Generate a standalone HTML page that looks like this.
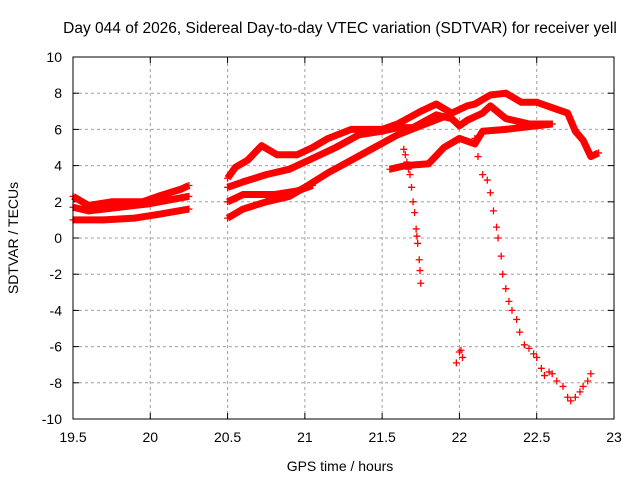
<!DOCTYPE html>
<html><head><meta charset="utf-8"><style>
body{margin:0;background:#fff}
svg{display:block;font-family:"Liberation Sans",Arial,sans-serif}
</style></head><body>
<svg id="chart" width="640" height="480">
<text x="340" y="33" text-anchor="middle" font-size="15.5">Day 044 of 2026, Sidereal Day-to-day VTEC variation (SDTVAR) for receiver yell</text>
<text x="340" y="471" text-anchor="middle" font-size="14">GPS time / hours</text>
<text transform="translate(18,238) rotate(-90)" text-anchor="middle" font-size="14">SDTVAR / TECUs</text>
<g id="grid"></g><g id="series"></g>
<rect x="73" y="57" width="541" height="362" fill="none" stroke="#000" stroke-width="1"/>
</svg>
<script>
const xTicks=[19.5,20,20.5,21,21.5,22,22.5,23];
const yTicks=[-10,-8,-6,-4,-2,0,2,4,6,8,10];
const trackA1=[[19.5,2.3],[19.6,1.8],[19.75,2.0],[19.95,2.0],[20.05,2.3],[20.2,2.7],[20.25,2.9]];
const trackA2=[[19.5,1.7],[19.6,1.5],[19.8,1.7],[20.0,1.9],[20.25,2.3]];
const trackA3=[[19.5,1.0],[19.7,1.0],[19.9,1.1],[20.05,1.3],[20.25,1.6]];
const trackB1=[[20.5,3.3],[20.55,3.9],[20.63,4.3],[20.72,5.1],[20.82,4.6],[20.95,4.6],[21.05,5.0],[21.15,5.5],[21.3,6.0],[21.5,6.0],[21.6,6.3],[21.75,7.0],[21.85,7.4],[21.95,6.9],[22.05,7.3],[22.1,7.4],[22.2,7.9],[22.3,8.0],[22.4,7.5],[22.5,7.5],[22.6,7.2],[22.7,6.9],[22.75,5.9],[22.8,5.4],[22.85,4.5],[22.9,4.7]];
const trackB2=[[20.5,2.8],[20.6,3.1],[20.75,3.5],[20.9,3.8],[21.05,4.4],[21.2,5.0],[21.35,5.7],[21.5,5.9],[21.6,6.1],[21.7,6.1],[21.85,6.8],[21.95,6.6],[22.0,6.2],[22.05,6.5],[22.15,6.9],[22.2,7.3],[22.3,6.6],[22.45,6.3],[22.6,6.3]];
const trackB3=[[20.5,2.0],[20.6,2.4],[20.8,2.4],[20.95,2.6],[21.05,2.9]];
const trackB4=[[20.5,1.1],[20.6,1.6],[20.75,2.0],[20.9,2.3],[21.0,2.8],[21.15,3.6],[21.3,4.3],[21.45,5.0],[21.6,5.7],[21.75,6.2],[21.9,6.7]];
const trackC=[[21.55,3.8],[21.65,4.0],[21.8,4.1],[21.9,5.0],[22.0,5.5],[22.1,5.2],[22.15,5.9],[22.3,6.0],[22.5,6.2],[22.6,6.3]];
const dropD1=[[21.64,4.9],[21.65,4.6],[21.66,4.2],[21.67,3.8],[21.68,3.5],[21.69,2.8],[21.7,2.0],[21.71,1.4],[21.72,0.5],[21.725,0.1],[21.73,-0.3],[21.74,-1.2],[21.745,-1.8],[21.75,-2.5]];
const dropD2=[[22.1,5.5],[22.12,4.5],[22.15,3.5],[22.18,3.2],[22.2,2.5],[22.22,1.5],[22.24,0.6],[22.25,0],[22.27,-1],[22.28,-2],[22.3,-2.8],[22.32,-3.5],[22.34,-4.0],[22.37,-4.5],[22.39,-5.2],[22.42,-5.9],[22.45,-6.1],[22.48,-6.4],[22.5,-6.6],[22.53,-7.2],[22.55,-7.6],[22.58,-7.4],[22.6,-7.5],[22.63,-7.9],[22.67,-8.2],[22.7,-8.8],[22.72,-9.0],[22.75,-8.8],[22.78,-8.5],[22.8,-8.2],[22.83,-7.9],[22.85,-7.5]];
const cluster=[[21.98,-6.9],[22.0,-6.3],[22.01,-6.2],[22.02,-6.6]];
const seriesList=[trackA1,trackA2,trackA3,trackB1,trackB2,trackB3,trackB4,trackC];
const sparse=[dropD1,dropD2,cluster];
const X=t=>73+(t-19.5)/3.5*541, Y=v=>57+(10-v)/20*362;
const NS='http://www.w3.org/2000/svg';
const g=document.getElementById('grid'), s=document.getElementById('series');
function mk(tag,at,par){const e=document.createElementNS(NS,tag);for(const k in at)e.setAttribute(k,at[k]);par.appendChild(e);return e;}
xTicks.forEach(t=>{const x=X(t);
 if(t>19.5&&t<23){const l=mk('line',{x1:x,x2:x,y1:57,y2:419,stroke:'#a0a0a0','stroke-dasharray':'3,3'},g);
 
 }
 const tx=mk('text',{x:x,y:442,'text-anchor':'middle','font-size':14},g);tx.textContent=t;
 
 
 mk('line',{x1:x,x2:x,y1:419,y2:413,stroke:'#000'},g);mk('line',{x1:x,x2:x,y1:57,y2:63,stroke:'#000'},g);});
yTicks.forEach(v=>{const y=Y(v);
 if(v>-10&&v<10){const l=mk('line',{x1:73,x2:614,y1:y,y2:y,stroke:'#a0a0a0','stroke-dasharray':'3,3'},g);
 
 }
 const tx=mk('text',{x:62,y:y+5,'text-anchor':'end','font-size':14},g);tx.textContent=v;
 
 
 mk('line',{x1:73,x2:79,y1:y,y2:y,stroke:'#000'},g);mk('line',{x1:614,x2:608,y1:y,y2:y,stroke:'#000'},g);});
function plus(x,y){const p=mk('path',{d:`M${x-3.5},${y}h7M${x},${y-3.5}v7`,stroke:'#f00','stroke-width':1.3},s);
 
 }
seriesList.forEach(d=>{const pl=mk('polyline',{points:d.map(p=>X(p[0])+','+Y(p[1])).join(' '),fill:'none',stroke:'#f00','stroke-width':7,'stroke-linejoin':'round'},s);
 
 
 d.forEach(p=>plus(X(p[0]),Y(p[1])));});
sparse.forEach(d=>d.forEach(p=>plus(X(p[0]),Y(p[1]))));
</script>
</body></html>
